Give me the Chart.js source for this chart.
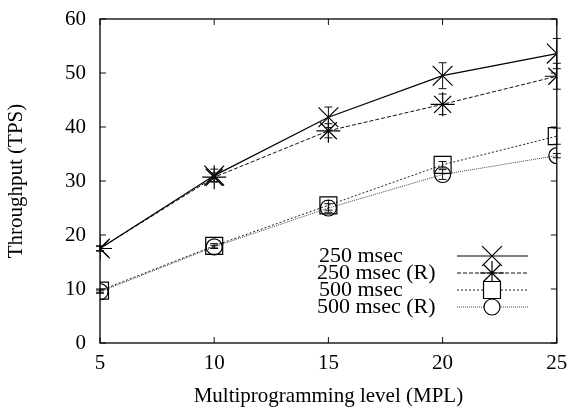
<!DOCTYPE html>
<html>
<head>
<meta charset="utf-8">
<script src="https://cdn.jsdelivr.net/npm/chart.js@4/dist/chart.umd.min.js"></script>
<style>
  html, body { margin: 0; padding: 0; background: #fff; }
  #wrap { width: 572px; height: 413px; }
</style>
</head>
<body>
<div id="wrap"><canvas id="c" width="572" height="413"></canvas></div>
<script>
const mpl = [5, 10, 15, 20, 25];
const yTicks = [0, 10, 20, 30, 40, 50, 60];

const t250   = [17.5, 31.0, 41.8, 49.5, 53.6];
const t250R  = [17.5, 30.7, 39.3, 44.2, 49.4];
const t500   = [9.7, 18.0, 25.5, 33.0, 38.3];
const t500R  = [9.5, 17.8, 25.0, 31.2, 34.7];

// half-width of the error bars
const e250   = [0.5, 1.2, 1.9, 2.4, 2.8];
const e250R  = [0.4, 0.8, 1.3, 1.9, 2.4];
const e500   = [0.3, 0.4, 0.9, 0.6, 1.5];
const e500R  = [0.3, 0.3, 0.8, 0.9, 0.4];

const labels = ['250 msec', '250 msec (R)', '500 msec', '500 msec (R)'];

const FONT = '"Liberation Serif", "DejaVu Serif", serif';

function mk(label, vals, errs, style, r, dash, width, color){
  return {
    label,
    data: mpl.map((x, i) => ({ x, y: vals[i] })),
    errs,
    borderColor: color,
    backgroundColor: 'rgba(0,0,0,0)',
    borderWidth: width,
    borderDash: dash,
    pointStyle: style,
    pointRadius: r,
    pointBorderWidth: 1.2,
    pointBorderColor: '#000',
    pointBackgroundColor: 'rgba(0,0,0,0)',
    tension: 0
  };
}

const datasets = [
  mk(labels[0], t250,  e250,  'crossRot', 14, [], 1.2, '#000'),
  mk(labels[1], t250R, e250R, 'star',     12, [4, 2], 1, '#111'),
  mk(labels[2], t500,  e500,  'rect',     12, [2, 2], 1, '#222'),
  mk(labels[3], t500R, e500R, 'circle',    8, [1, 1], 1, '#444')
];

// error bars + inward ticks + inside legend
const extras = {
  id: 'extras',
  afterDatasetsDraw(chart){
    const ctx = chart.ctx;
    const xs = chart.scales.x, ys = chart.scales.y;
    const a = chart.chartArea;
    ctx.save();
    ctx.strokeStyle = '#111';
    ctx.lineWidth = 1;
    ctx.setLineDash([]);
    chart.data.datasets.forEach(ds => {
      ds.data.forEach((p, i) => {
        const px = xs.getPixelForValue(p.x);
        const y1 = ys.getPixelForValue(p.y - ds.errs[i]);
        const y2 = ys.getPixelForValue(p.y + ds.errs[i]);
        ctx.beginPath();
        ctx.moveTo(px, y1); ctx.lineTo(px, y2);
        ctx.moveTo(px - 4, y1); ctx.lineTo(px + 4, y1);
        ctx.moveTo(px - 4, y2); ctx.lineTo(px + 4, y2);
        ctx.stroke();
      });
    });
    // inward ticks on all sides
    ctx.beginPath();
    mpl.forEach(v => {
      const px = xs.getPixelForValue(v);
      ctx.moveTo(px, a.bottom); ctx.lineTo(px, a.bottom - 6);
      ctx.moveTo(px, a.top); ctx.lineTo(px, a.top + 6);
    });
    yTicks.forEach(v => {
      const py = ys.getPixelForValue(v);
      ctx.moveTo(a.left, py); ctx.lineTo(a.left + 6, py);
      ctx.moveTo(a.right, py); ctx.lineTo(a.right - 6, py);
    });
    ctx.stroke();
    ctx.lineWidth = 1.3;
    ctx.strokeStyle = '#000';
    ctx.strokeRect(a.left, a.top, a.right - a.left, a.bottom - a.top);

    // legend
    ctx.font = '22px ' + FONT;
    ctx.textBaseline = 'middle';
    ctx.textAlign = 'left';
    const rowY = [256, 273, 290, 307];
    const textX = [319, 317, 319, 317];
    chart.data.datasets.forEach((ds, i) => {
      const y = rowY[i];
      ctx.fillStyle = '#000';
      ctx.fillText(ds.label, textX[i], y);
      ctx.strokeStyle = ds.borderColor;
      ctx.lineWidth = ds.borderWidth;
      ctx.setLineDash(ds.borderDash);
      ctx.beginPath();
      ctx.moveTo(457, y); ctx.lineTo(528, y);
      ctx.stroke();
      ctx.setLineDash([]);
      ctx.lineWidth = 1.2;
      ctx.strokeStyle = '#000';
      ctx.fillStyle = '#fff';
      Chart.helpers.drawPoint(ctx, { pointStyle: ds.pointStyle, radius: ds.pointRadius, rotation: 0, borderWidth: 1.2 }, 492, y);
    });
    ctx.restore();
  }
};

new Chart(document.getElementById('c'), {
  type: 'line',
  data: { datasets },
  options: {
    responsive: false,
    animation: false,
    layout: { padding: { top: 19, right: 15, left: 0, bottom: 0 } },
    plugins: { legend: { display: false }, tooltip: { enabled: false } },
    scales: {
      x: {
        type: 'linear', min: 5, max: 25,
        afterBuildTicks: s => { s.ticks = mpl.map(v => ({ value: v })); },
        afterFit: s => { s.height = 70; s.paddingLeft = 0; s.paddingRight = 0; },
        grid: { display: false, drawTicks: false },
        border: { display: false },
        ticks: { color: '#000', font: { family: FONT, size: 21 }, padding: 8, maxRotation: 0 },
        title: { display: true, text: 'Multiprogramming level (MPL)', color: '#000',
                 font: { family: FONT, size: 21 }, padding: { top: 8 } }
      },
      y: {
        type: 'linear', min: 0, max: 60,
        afterBuildTicks: s => { s.ticks = yTicks.map(v => ({ value: v })); },
        afterFit: s => { s.width = 100; s.paddingTop = 0; s.paddingBottom = 0; },
        grid: { display: false, drawTicks: false },
        border: { display: false },
        ticks: { color: '#000', font: { family: FONT, size: 21 }, padding: 14 },
        title: { display: true, text: 'Throughput (TPS)', color: '#000',
                 font: { family: FONT, size: 21 }, padding: { bottom: 2 } }
      }
    }
  },
  plugins: [extras]
});
</script>
</body>
</html>
